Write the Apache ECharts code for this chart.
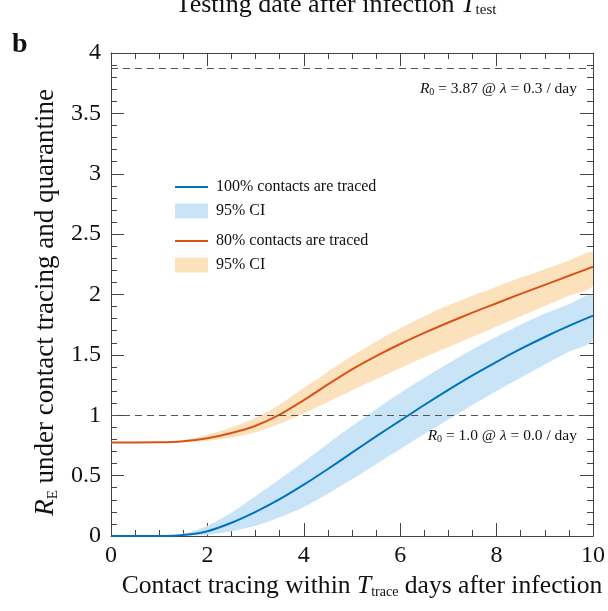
<!DOCTYPE html>
<html>
<head>
<meta charset="utf-8">
<script src="https://cdn.jsdelivr.net/npm/echarts@6/dist/echarts.min.js"></script>
<style>
  html, body { margin: 0; padding: 0; background: #fff; }
  #chart { width: 608px; height: 611px; }
</style>
</head>
<body>
<div id="chart"></div>
<script>
// Contact-tracing delay (days after infection)
const tTrace = [0, 0.5, 1, 1.5, 2, 2.5, 3, 3.5, 4, 4.5, 5, 5.5, 6, 6.5, 7, 7.5, 8, 8.5, 9, 9.5, 10];

// 100% of contacts traced: central estimate and 95% CI
const full = [0, 0, 0, 0.008, 0.04, 0.11, 0.2, 0.305, 0.425, 0.555, 0.69, 0.825, 0.955, 1.085, 1.21, 1.33, 1.443, 1.549, 1.648, 1.74, 1.825];
const fullLow = [0, 0, 0, 0, 0.01, 0.04, 0.085, 0.155, 0.24, 0.35, 0.47, 0.595, 0.72, 0.845, 0.965, 1.085, 1.2, 1.31, 1.42, 1.525, 1.625];
const fullHigh = [0, 0, 0, 0.02, 0.085, 0.195, 0.33, 0.47, 0.615, 0.765, 0.91, 1.05, 1.185, 1.31, 1.43, 1.545, 1.65, 1.75, 1.84, 1.92, 1.99];

// 80% of contacts traced: central estimate and 95% CI
const part = [0.775, 0.775, 0.776, 0.785, 0.81, 0.853, 0.913, 1.005, 1.125, 1.255, 1.38, 1.49, 1.59, 1.682, 1.768, 1.85, 1.928, 2.005, 2.08, 2.155, 2.23];
const partLow = [0.774, 0.774, 0.775, 0.779, 0.788, 0.815, 0.86, 0.93, 1.015, 1.11, 1.205, 1.3, 1.39, 1.48, 1.565, 1.65, 1.735, 1.82, 1.905, 1.99, 2.075];
const partHigh = [0.776, 0.776, 0.78, 0.795, 0.838, 0.9, 0.98, 1.09, 1.225, 1.36, 1.49, 1.61, 1.72, 1.82, 1.91, 1.99, 2.065, 2.14, 2.21, 2.28, 2.345];

// Reference reproduction numbers drawn as dashed lines
const refLevels = [3.87, 1.0];
const refLevelText = ['3.87', '1.0'];
const refRates = ['0.3', '0.0'];

const xTicks = { min: 0, max: 10, interval: 2 };
const yTicks = { min: 0, max: 4, interval: 0.5 };

const BLUE = '#0072BD';
const ORANGE = '#D95319';
const BLUE_CI = '#c9e4f6';
const ORANGE_CI = '#fbe2bd';
const INK = '#111';
const SERIF = '"Liberation Serif", "Times New Roman", serif';

const pairs = (xs, ys) => xs.map((x, i) => [x, ys[i]]);

const annRich = {
  i: { fontFamily: SERIF, fontStyle: 'italic', fontSize: 15.5, color: INK },
  s: { fontFamily: SERIF, fontSize: 10, color: INK, verticalAlign: 'bottom', padding: [7, 0, 0, 0] },
  t: { fontFamily: SERIF, fontSize: 15.5, color: INK }
};
const refLabel = (i) => `{i|R}{s|0}{t| = ${refLevelText[i]} @ }{i|λ}{t| = ${refRates[i]} / day}`;

// Confidence band: one polygon through the upper bound and back along the lower bound
function bandSeries(name, lo, hi, color) {
  return {
    type: 'custom', name: name, silent: true, z: 1, clip: true,
    data: tTrace.map((x, i) => [x, lo[i], hi[i]]),
    encode: { x: 0, y: [1, 2] },
    itemStyle: { color: color },
    renderItem: (params, api) => {
      if (params.dataIndex !== 0) return null;
      const cs = params.coordSys;
      const upper = tTrace.map((x, i) => api.coord([x, hi[i]]));
      const lower = tTrace.map((x, i) => api.coord([x, lo[i]])).reverse();
      return {
        type: 'polygon',
        shape: {
          points: upper.concat(lower),
          smooth: 0.3,
          smoothConstraint: [[cs.x, cs.y], [cs.x + cs.width, cs.y + cs.height]]
        },
        style: { fill: color, stroke: null }
      };
    }
  };
}

const axisLine = { show: true, onZero: false, lineStyle: { color: '#444', width: 1 } };
const tick = { show: true, inside: true, length: 13, lineStyle: { color: '#444', width: 1 } };
const minor = (n) => ({ show: true, splitNumber: n, length: 6, lineStyle: { color: '#444', width: 1 } });

const chart = echarts.init(document.getElementById('chart'), null, { renderer: 'canvas' });

const legendText = {
  fullLine: '100% contacts are traced',
  fullCI: '95% CI',
  partLine: '80% contacts are traced',
  partCI: '95% CI'
};
const legendBase = {
  orient: 'vertical', left: 175, padding: 0, itemWidth: 33, itemGap: 0,
  textStyle: { fontFamily: SERIF, fontSize: 16, color: INK, padding: [0, 0, 0, 3] },
  formatter: (n) => legendText[n],
  selectedMode: false
};

const titleRich = (size, subSize, subPad) => ({
  t: { fontFamily: SERIF, fontSize: size, fontWeight: 'normal', color: INK },
  i: { fontFamily: SERIF, fontSize: size, fontWeight: 'normal', fontStyle: 'italic', color: INK },
  s: { fontFamily: SERIF, fontSize: subSize, fontWeight: 'normal', color: INK, verticalAlign: 'bottom', padding: [subPad, 0, 0, 0] }
});

chart.setOption({
  animation: false,
  backgroundColor: '#fff',
  title: [
    {
      text: '{t|Testing date after infection }{i|T}{s|test}',
      left: 336, textAlign: 'center', top: -8, padding: 0,
      textStyle: { fontWeight: 'normal', rich: titleRich(26, 15, 11) }
    },
    {
      text: 'b', left: 12, top: 31, padding: 0,
      textStyle: { fontFamily: SERIF, fontSize: 28, fontWeight: 'bold', color: INK }
    }
  ],
  legend: [
    Object.assign({}, legendBase, { top: 179, itemHeight: 2, data: [{ name: 'fullLine', icon: 'rect', itemStyle: { color: BLUE } }] }),
    Object.assign({}, legendBase, { top: 203, itemHeight: 15, data: [{ name: 'fullCI', icon: 'rect', itemStyle: { color: BLUE_CI } }] }),
    Object.assign({}, legendBase, { top: 233, itemHeight: 2, data: [{ name: 'partLine', icon: 'rect', itemStyle: { color: ORANGE } }] }),
    Object.assign({}, legendBase, { top: 257, itemHeight: 15, data: [{ name: 'partCI', icon: 'rect', itemStyle: { color: ORANGE_CI } }] })
  ],
  grid: { left: 111, right: 14, top: 53, bottom: 75, containLabel: false },
  xAxis: [
    {
      type: 'value', min: xTicks.min, max: xTicks.max, interval: xTicks.interval,
      axisLine, axisTick: tick, minorTick: minor(4), splitLine: { show: false },
      axisLabel: { fontFamily: SERIF, fontSize: 24, color: INK, margin: 8 },
      name: '{t|Contact tracing within }{i|T}{s|trace}{t| days after infection}',
      nameLocation: 'middle', nameGap: 36,
      nameTextStyle: { padding: [0, 0, 0, 20], rich: titleRich(25.6, 14, 13) }
    },
    {
      type: 'value', position: 'top', min: xTicks.min, max: xTicks.max, interval: xTicks.interval,
      axisLine, axisTick: tick, minorTick: minor(4), axisLabel: { show: false }, splitLine: { show: false }
    }
  ],
  yAxis: [
    {
      type: 'value', min: yTicks.min, max: yTicks.max, interval: yTicks.interval,
      axisLine, axisTick: tick, minorTick: minor(5), splitLine: { show: false },
      axisLabel: { fontFamily: SERIF, fontSize: 24, color: INK, margin: 10 },
      name: '{i|R}{s|E}{t| under contact tracing and quarantine}',
      nameLocation: 'middle', nameGap: 48, nameRotate: 90,
      nameTextStyle: { padding: [0, 16, 0, 0], rich: titleRich(27, 15, 13) }
    },
    {
      type: 'value', position: 'right', min: yTicks.min, max: yTicks.max, interval: yTicks.interval,
      axisLine, axisTick: tick, minorTick: minor(5), axisLabel: { show: false }, splitLine: { show: false }
    }
  ],
  series: [
    bandSeries('partCI', partLow, partHigh, ORANGE_CI),
    bandSeries('fullCI', fullLow, fullHigh, BLUE_CI),
    {
      id: 'refLines', type: 'line', data: [], silent: true,
      markLine: {
        silent: true, symbol: 'none', animation: false,
        lineStyle: { type: [7, 5], color: '#555', width: 1.2 },
        label: {
          position: 'insideEndBottom', distance: [16, 12],
          formatter: (p) => refLabel(p.dataIndex), rich: annRich
        },
        data: refLevels.map((v) => ({ yAxis: v }))
      },
      z: 2
    },
    {
      id: 'partLine', name: 'partLine', type: 'line', data: pairs(tTrace, part),
      symbol: 'none', smooth: 0.3, lineStyle: { color: ORANGE, width: 2 }, itemStyle: { color: ORANGE }, z: 3
    },
    {
      id: 'fullLine', name: 'fullLine', type: 'line', data: pairs(tTrace, full),
      symbol: 'none', smooth: 0.3, lineStyle: { color: BLUE, width: 2 }, itemStyle: { color: BLUE }, z: 3
    }
  ]
});
</script>
</body>
</html>
